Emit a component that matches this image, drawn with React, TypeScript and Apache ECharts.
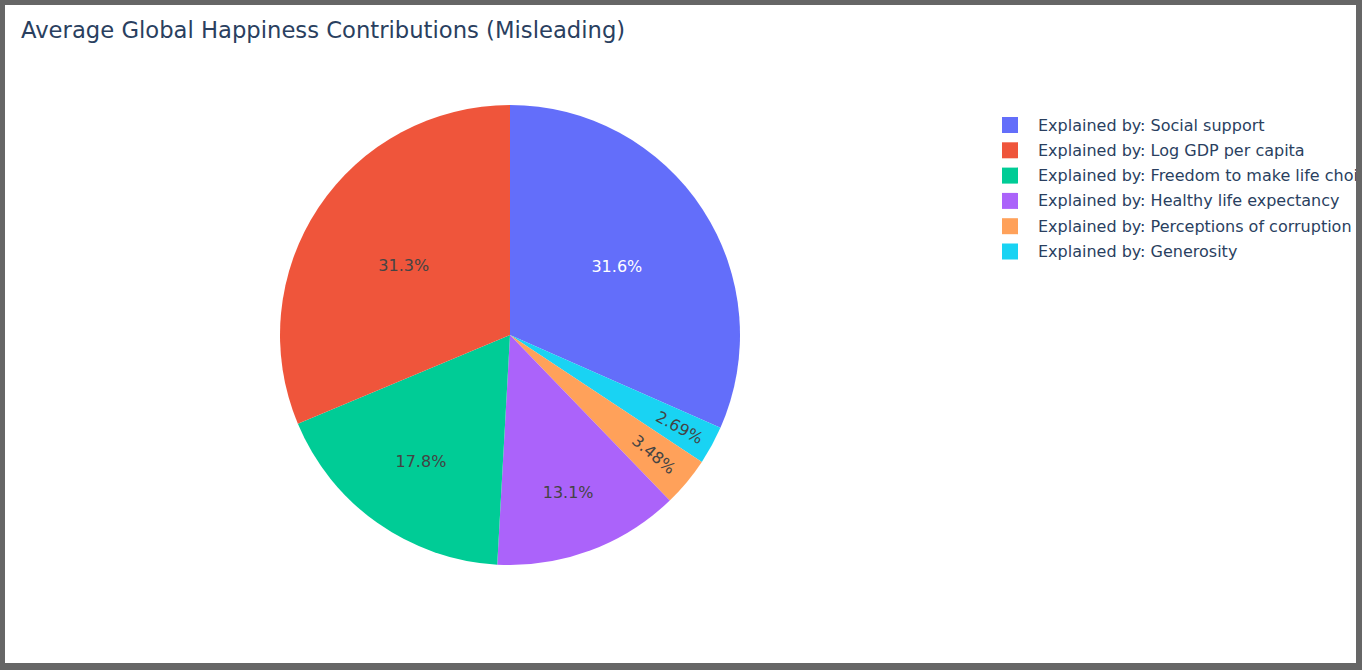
import { useEffect, useRef } from "react"
import * as echarts from "echarts"

// legend order (as plotly lists them)
const categories = [
  "Explained by: Social support",
  "Explained by: Log GDP per capita",
  "Explained by: Freedom to make life choices",
  "Explained by: Healthy life expectancy",
  "Explained by: Perceptions of corruption",
  "Explained by: Generosity",
]
const shares = [31.6, 31.3, 17.8, 13.1, 3.48, 2.69]
const colors = ["#636efa", "#ef553b", "#00cc96", "#ab63fa", "#ffa15a", "#19d3f3"]
// order the slices are drawn clockwise from 12 o'clock
const sliceOrder = [0, 5, 4, 3, 2, 1]

const titleText = "Average Global Happiness Contributions (Misleading)"
const FONT = "'DejaVu Sans', Verdana, sans-serif"
const INK = "#2a3f5f"

// per-slice label tweaks so the text sits where plotly puts it
const labelStyle: Record<number, any> = {
  0: { color: "#ffffff", padding: [0, 0, 8, 16] },
  1: { color: "#444444", padding: [0, 16, 8, 0] },
  2: { color: "#444444", padding: [60, 42, 0, 0] },
  3: { color: "#444444", padding: [94, 0, 0, 34] },
  4: { color: "#444444", rotate: "radial", padding: [0, 0, 0, 138] },
  5: { color: "#444444", rotate: "radial", padding: [0, 0, 0, 150] },
}

export default function App() {
  const hostRef = useRef<HTMLDivElement>(null)

  useEffect(() => {
    document.body.style.margin = "0"
    const el = hostRef.current
    if (!el) return
    const chart = echarts.init(el, undefined, { renderer: "svg" })

    chart.setOption({
      animation: false,
      textStyle: { fontFamily: FONT },
      title: {
        text: titleText,
        left: 16,
        top: 13,
        padding: 0,
        textStyle: { color: INK, fontSize: 22.7, fontWeight: "normal", fontFamily: FONT },
      },
      legend: {
        orient: "vertical",
        left: 997,
        top: 112,
        padding: 0,
        itemWidth: 16,
        itemHeight: 16,
        itemGap: 9.3,
        icon: "rect",
        data: categories,
        textStyle: { color: INK, fontSize: 16, fontFamily: FONT, padding: [0, 0, 0, 15] },
      },
      series: [
        {
          type: "pie",
          center: [505, 330],
          radius: 230,
          startAngle: 90,
          clockwise: true,
          avoidLabelOverlap: false,
          labelLine: { show: false },
          emphasis: { disabled: true },
          itemStyle: { borderWidth: 0 },
          label: {
            show: true,
            position: "inside",
            fontSize: 16,
            fontFamily: FONT,
            // rich text so that vertical padding moves the text too
            formatter: (p: any) => "{v|" + Number(p.percent).toPrecision(3) + "%}",
            rich: { v: {} },
          },
          data: sliceOrder.map((i) => ({
            name: categories[i],
            value: shares[i],
            itemStyle: { color: colors[i] },
            label: labelStyle[i],
          })),
        },
      ],
    })

    return () => chart.dispose()
  }, [])

  return (
    <div
      style={{
        width: 1362,
        height: 670,
        boxSizing: "border-box",
        borderStyle: "solid",
        borderColor: "#666666",
        borderWidth: "5px 6px 7px 5px",
        background: "#ffffff",
        overflow: "hidden",
      }}
    >
      <div ref={hostRef} style={{ width: 1351, height: 658 }} />
    </div>
  )
}
